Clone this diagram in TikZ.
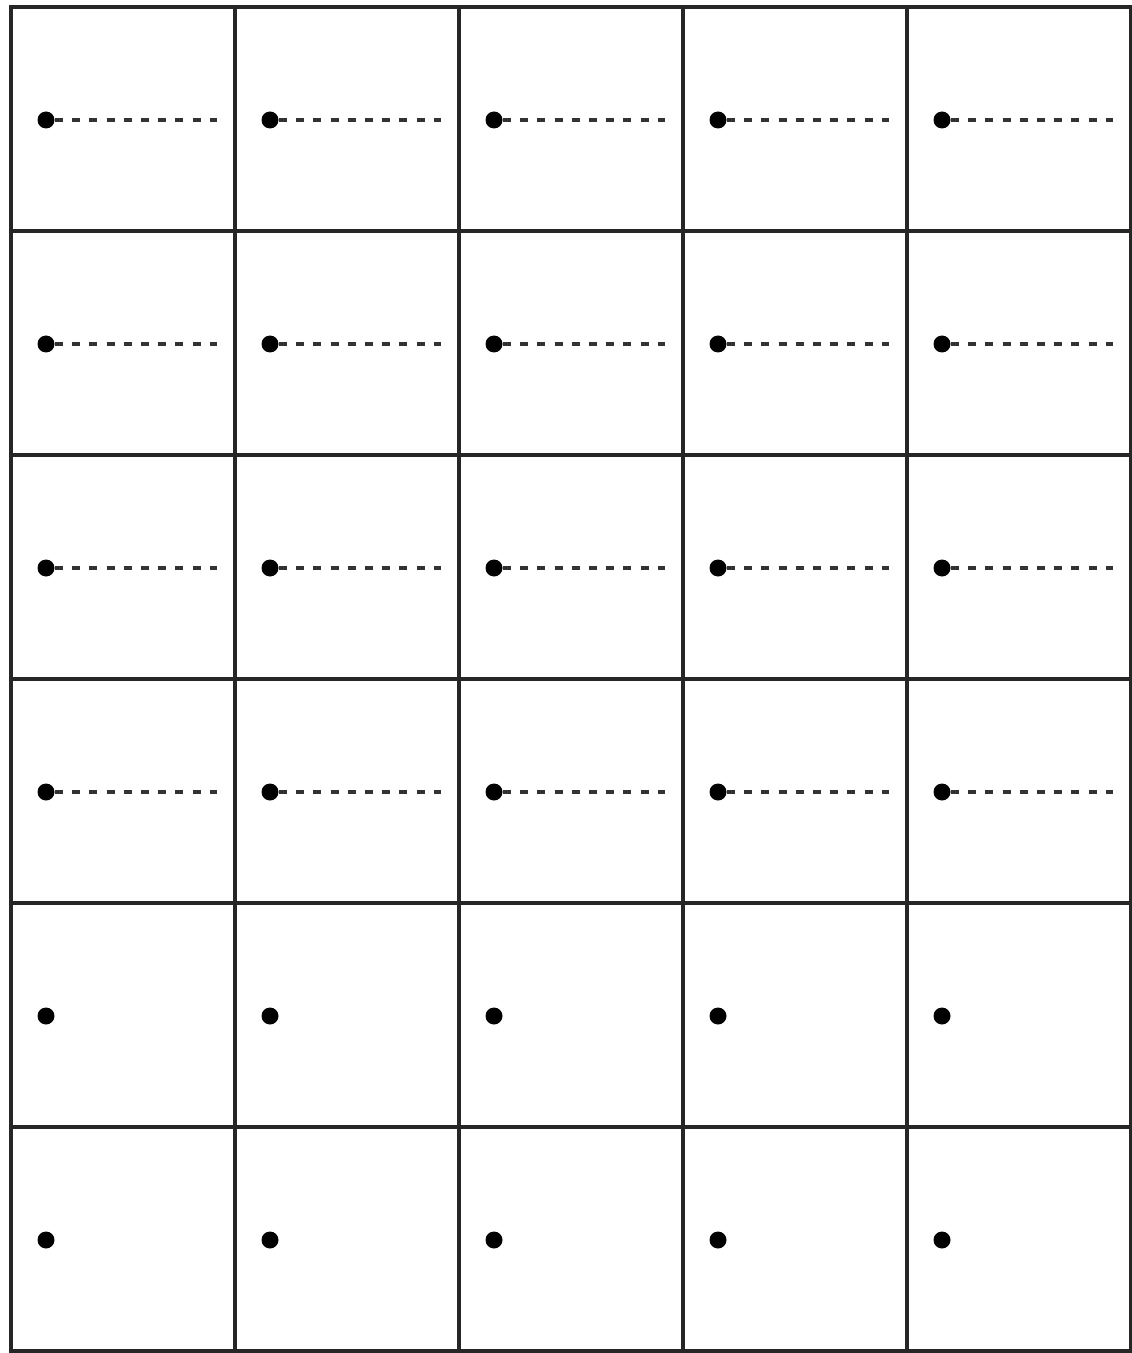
\documentclass[tikz,border=0pt]{standalone}
\begin{document}
\begin{tikzpicture}[x=0.5pt,y=-0.5pt,
  cellbox/.style={draw=black!85,line width=1.7pt,minimum width=112pt,minimum height=112pt,inner sep=0pt,outer sep=0pt},
  dotnode/.style={circle,fill=black,inner sep=0pt,minimum size=8.5pt},
  trail/.style={draw=black!80,line width=2pt,dash pattern=on 4pt off 4.6pt}]
\useasboundingbox[fill=white] (0,0) rectangle (1131,1353);
\foreach \r in {0,...,5}{
  \foreach \c in {0,...,4}{
    \node[cellbox] (cell-\r-\c) at ({11+224*\c+112},{7+224*\r+112}) {};
    \node[dotnode] (dot-\r-\c) at ({11+224*\c+35},{7+224*\r+113}) {};
  }
}
\foreach \r in {0,...,3}{
  \foreach \c in {0,...,4}{
    \coordinate (end-\r-\c) at ({11+224*\c+206},{7+224*\r+113});
    \draw[trail] (dot-\r-\c.east) -- (end-\r-\c);
  }
}
\end{tikzpicture}
\end{document}
